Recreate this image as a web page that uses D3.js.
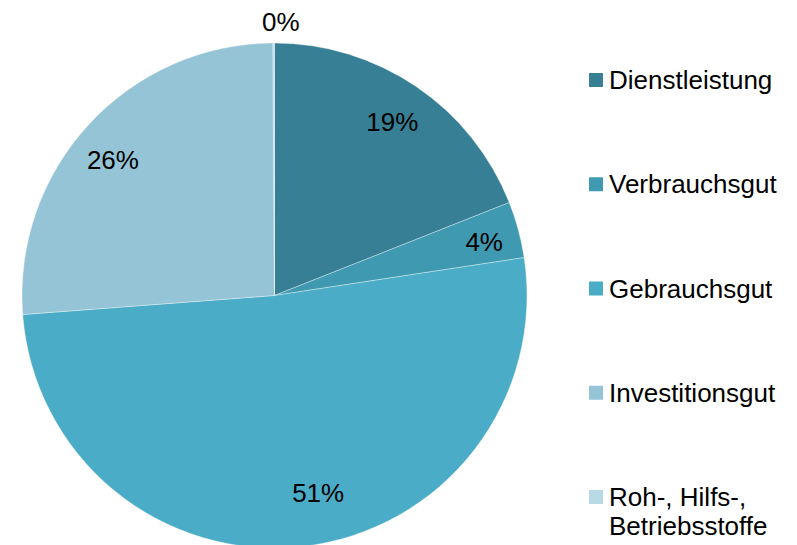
<!DOCTYPE html>
<html lang="de">
<head>
<meta charset="UTF-8">
<title>Pie</title>
<script src="https://d3js.org/d3.v7.min.js"></script>
<style>
  body { margin: 0; background: #fff; }
  svg { display: block; font-family: "Liberation Sans", Arial, sans-serif; }
</style>
</head>
<body>
<svg id="canvas" width="797" height="545"></svg>
<script>
// data
const categories = ["Dienstleistung", "Verbrauchsgut", "Gebrauchsgut", "Investitionsgut", "Roh-, Hilfs-, Betriebsstoffe"];
const values = [19.0, 3.6, 51.2, 26.1, 0.1];
const labels = ["19%", "4%", "51%", "26%", "0%"];
const legendLines = [["Dienstleistung"], ["Verbrauchsgut"], ["Gebrauchsgut"], ["Investitionsgut"], ["Roh-, Hilfs-,", "Betriebsstoffe"]];
const colors = ["#367f94", "#3f99b1", "#4aacc6", "#94c4d5", "#b8dae6"];

// label placement (excel "best fit" roughly): radius factor and angle shift in degrees
const labelPos = [
  {k: 0.83, da: 0},
  {k: 0.857, da: 0.8},
  {k: 0.80, da: -6},
  {k: 0.835, da: -2.7},
  {k: 1.083, da: 1.5}
];

const svg = d3.select("#canvas");
const cx = 274.5, cy = 295.5, r = 252.5;
const fs = 26;

const pie = d3.pie().sort(null).value(d => d)(values);
const arc = d3.arc().innerRadius(0).outerRadius(r);

const g = svg.append("g").attr("transform", `translate(${cx},${cy})`);

g.selectAll("path")
  .data(pie)
  .enter().append("path")
  .attr("d", arc)
  .attr("fill", (d, i) => colors[i])
  .attr("stroke", "rgba(255,255,255,0.5)")
  .attr("stroke-width", 0.7);

g.selectAll("text.lbl")
  .data(pie)
  .enter().append("text")
  .attr("class", "lbl")
  .attr("x", (d, i) => {
    const a = (d.startAngle + d.endAngle) / 2 + labelPos[i].da * Math.PI / 180;
    return Math.sin(a) * r * labelPos[i].k;
  })
  .attr("y", (d, i) => {
    const a = (d.startAngle + d.endAngle) / 2 + labelPos[i].da * Math.PI / 180;
    return -Math.cos(a) * r * labelPos[i].k;
  })
  .attr("text-anchor", "middle")
  .attr("dy", "0.35em")
  .attr("font-size", fs)
  .attr("fill", "#000")
  .text((d, i) => labels[i]);

// legend
const legendY = d3.scalePoint().domain(d3.range(categories.length)).range([80, 497]);
const leg = svg.append("g");
categories.forEach((c, i) => {
  const y = legendY(i);
  leg.append("rect")
    .attr("x", 589).attr("y", y - 7)
    .attr("width", 14).attr("height", 14)
    .attr("fill", colors[i]);
  const t = leg.append("text")
    .attr("x", 609).attr("y", y + 9)
    .attr("font-size", fs)
    .attr("fill", "#000");
  legendLines[i].forEach((line, j) => {
    t.append("tspan").attr("x", 609).attr("dy", j === 0 ? 0 : 29).text(line);
  });
});
</script>
</body>
</html>
